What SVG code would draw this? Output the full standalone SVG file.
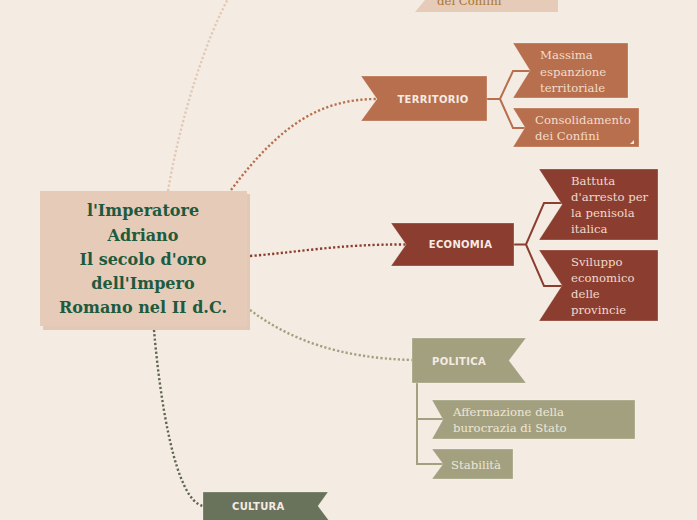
<svg xmlns="http://www.w3.org/2000/svg" width="697" height="520" viewBox="0 0 697 520">
<style>
.bg{fill:#f4ece3}
.dot{fill:none;stroke-width:2.4;stroke-dasharray:2.2 2.2}
.br{fill:none;stroke-width:2}
.main{font-family:"DejaVu Serif","Liberation Serif",serif;font-weight:bold;font-size:16px;fill:#1d5a3e;text-anchor:middle}
.ban{font-family:"DejaVu Sans","Liberation Sans",sans-serif;font-weight:bold;font-size:10px;letter-spacing:0.3px;fill:#f5ebe3}
.sub{font-family:"DejaVu Serif","Liberation Serif",serif;font-size:11.7px}
.edge{stroke:#ffffff;stroke-opacity:0.25;stroke-width:1}
</style>
<rect class="bg" x="0" y="0" width="697" height="520"/>

<g id="connectors">
  <path class="dot" stroke="#e3c8b4" d="M168,191 C180,120 205,40 230,-5"/>
  <path class="dot" stroke="#b86f4d" d="M231,190 C280,125 320,99 377,99"/>
  <path class="dot" stroke="#8b3e2f" d="M250,256 C300,252 340,244 406,244.5"/>
  <path class="dot" stroke="#a3a07f" d="M250,310 C290,340 340,358 412,360"/>
  <path class="dot" stroke="#5e6750" d="M154,330 C160,400 175,500 203,506"/>
  <path class="br" stroke="#b86f4d" d="M487,99 H500 L513,71 H530 M500,99 L513,128 H525"/>
  <path class="br" stroke="#8b3e2f" d="M514,244.5 H526 L544,203 H562 M526,244.5 L544,286 H562"/>
  <path class="br" stroke="#a3a07f" d="M417,383 V464 H443 M417,419 H443"/>
</g>

<g id="top-node">
  <polygon fill="#e6cbb9" points="430,-20 558,-20 558,12 415,12 430,-6"/>
  <text class="sub" x="437" y="5" fill="#a8772f">dei Confini</text>
</g>

<g id="central">
  <rect x="43" y="194" width="207" height="136" fill="#e3c8b5"/>
  <rect x="40" y="191" width="207" height="135" fill="#e6cbb9"/>
  <text class="main" x="143" y="216">l'Imperatore</text>
  <text class="main" x="143" y="240.5">Adriano</text>
  <text class="main" x="143" y="265">Il secolo d'oro</text>
  <text class="main" x="143" y="289">dell'Impero</text>
  <text class="main" x="143" y="313">Romano nel II d.C.</text>
</g>

<g id="territorio">
  <polygon class="edge" fill="#b86f4d" points="361,76 487,76 487,121 361,121 377,99"/>
  <text class="ban" x="433" y="103" text-anchor="middle">TERRITORIO</text>
</g>
<g id="massima">
  <polygon class="edge" fill="#b86f4d" points="513,43 628,43 628,98 513,98 530,70.5"/>
  <text class="sub" fill="#f2dccb"><tspan x="540" y="59">Massima</tspan><tspan x="540" y="75.5">espanzione</tspan><tspan x="540" y="92">territoriale</tspan></text>
</g>
<g id="consolidamento">
  <polygon class="edge" fill="#b86f4d" points="513,108 639,108 639,147 513,147 525,127.5"/>
  <text class="sub" fill="#f2dccb"><tspan x="535" y="124">Consolidamento</tspan><tspan x="535" y="140">dei Confini</tspan></text>
  <polygon fill="#f4ece3" points="634,140 634,144 630,144"/>
</g>

<g id="economia">
  <polygon class="edge" fill="#8b3e2f" points="391,223 514,223 514,266 391,266 406,244.5"/>
  <text class="ban" x="460.5" y="248" text-anchor="middle">ECONOMIA</text>
</g>
<g id="battuta">
  <polygon class="edge" fill="#8b3e2f" points="539,169 658,169 658,240 539,240 562,204.5"/>
  <text class="sub" fill="#f0d8cc"><tspan x="571" y="185">Battuta</tspan><tspan x="571" y="201">d'arresto per</tspan><tspan x="571" y="217">la penisola</tspan><tspan x="571" y="233">italica</tspan></text>
</g>
<g id="sviluppo">
  <polygon class="edge" fill="#8b3e2f" points="539,250 658,250 658,321 539,321 562,285.5"/>
  <text class="sub" fill="#f0d8cc"><tspan x="571" y="266">Sviluppo</tspan><tspan x="571" y="282">economico</tspan><tspan x="571" y="298">delle</tspan><tspan x="571" y="314">provincie</tspan></text>
</g>

<g id="politica">
  <polygon class="edge" fill="#a3a07f" points="412,338 526,338 509,360.5 526,383 412,383"/>
  <text class="ban" x="432" y="365">POLITICA</text>
</g>
<g id="affermazione">
  <polygon class="edge" fill="#a3a07f" points="432,400 635,400 635,439 432,439 443,419.5"/>
  <text class="sub" fill="#ede6d6"><tspan x="453" y="416">Affermazione della</tspan><tspan x="453" y="432">burocrazia di Stato</tspan></text>
</g>
<g id="stabilita">
  <polygon class="edge" fill="#a3a07f" points="432,449 513,449 513,479 432,479 443,464"/>
  <text class="sub" fill="#ede6d6" x="451" y="469">Stabilità</text>
</g>

<g id="cultura">
  <polygon class="edge" fill="#69725a" points="203,492 328,492 318,506 330,522 203,522"/>
  <text class="ban" x="232" y="510">CULTURA</text>
</g>
</svg>
